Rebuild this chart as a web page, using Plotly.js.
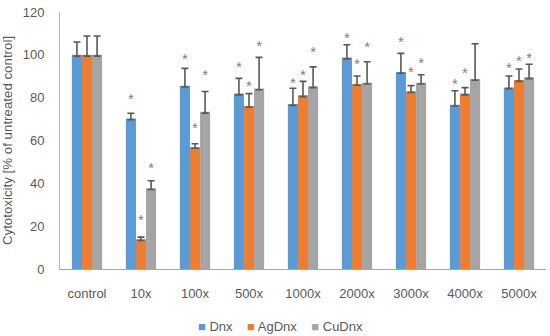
<!DOCTYPE html>
<html>
<head>
<meta charset="utf-8">
<script src="https://cdn.plot.ly/plotly-3.0.1.min.js"></script>
<style>html,body{margin:0;padding:0;background:#fff;}#chart{width:550px;height:336px;}</style>
</head>
<body>
<div id="chart"></div>
<script>
var categories = ["control", "10x", "100x", "500x", "1000x", "2000x", "3000x", "4000x", "5000x"];

var dnx    = [100, 70.3, 85.6, 81.9, 77.0, 98.7, 92.0, 76.7, 84.8];
var dnxErr = [6.0, 2.4, 8.1, 7.1, 7.4, 6.0, 8.7, 6.5, 5.3];
var agdnx    = [100, 13.9, 57.0, 76.1, 81.1, 86.4, 83.0, 81.9, 88.2];
var agdnxErr = [8.8, 1.0, 1.5, 5.8, 6.5, 3.7, 2.6, 2.8, 5.2];
var cudnx    = [100, 37.7, 73.4, 84.3, 85.3, 87.0, 87.0, 88.7, 89.5];
var cudnxErr = [8.8, 3.5, 9.5, 14.5, 9.1, 9.8, 3.7, 16.5, 6.1];
var errMinus = [0.6, 0.6, 0.6, 0.6, 0.6, 0.6, 0.6, 0.6, 0.6];

// asterisk (significance) marker heights
var starDnx = [null, 78.9, 97.6, 93.7, 86.2, 107.2, 105.4, 85.8, 93.5];
var starAg  = [null, 22.4, 65.2, 84.8, 89.8, 95.1, 91.6, 91.0, 96.6];
var starCu  = [null, 46.5, 90.1, 103.5, 100.7, 103.3, 95.7, null, 98.0];

var names = ["Dnx", "AgDnx", "CuDnx"];
var colors = ["#5b9bd5", "#ed7d31", "#a5a5a5"];
var vals = [dnx, agdnx, cudnx];
var errs = [dnxErr, agdnxErr, cudnxErr];
var stars = [starDnx, starAg, starCu];

var traces = [];
for (var i = 0; i < 3; i++) {
  traces.push({
    type: "bar", name: names[i], x: categories, y: vals[i],
    offsetgroup: "g" + i, alignmentgroup: "a",
    marker: {color: colors[i]},
    error_y: {type: "data", symmetric: false, array: errs[i], arrayminus: errMinus,
              color: "#595959", thickness: 1.6, width: 3.5},
    hoverinfo: "skip", showlegend: false
  });
}
for (var j = 0; j < 3; j++) {
  traces.push({
    type: "scatter", mode: "text", x: categories, y: stars[j],
    text: stars[j].map(function(v){ return v === null ? "" : "*"; }),
    textposition: "middle center",
    textfont: {family: "Liberation Sans, Arial, sans-serif", size: 15, color: "#808080"},
    offsetgroup: "g" + j, alignmentgroup: "a",
    showlegend: false, hoverinfo: "skip", cliponaxis: false
  });
}

var legendText = names.map(function(n, k){
  return '<span style="color:' + colors[k] + '">\u25A0</span> ' + n;
}).join('&nbsp;&nbsp;&nbsp;&nbsp;');

var layout = {
  width: 550, height: 336,
  margin: {l: 60, r: 4, t: 12, b: 67},
  paper_bgcolor: "#fff", plot_bgcolor: "#fff",
  barmode: "group", scattermode: "group",
  bargap: 0.44, bargroupgap: 0, scattergap: 0.44,
  font: {family: "Liberation Sans, Arial, sans-serif", color: "#595959", size: 13},
  xaxis: {
    type: "category", showgrid: false, zeroline: false,
    showline: true, linecolor: "#a6a6a6", linewidth: 1,
    ticks: "", ticklabelstandoff: 12,
    tickfont: {size: 13, color: "#595959"}
  },
  yaxis: {
    range: [0, 120], dtick: 20, showgrid: false, zeroline: false,
    showline: true, linecolor: "#9dc3e6", linewidth: 1,
    ticks: "", ticklabelstandoff: 12,
    tickfont: {size: 13, color: "#595959"},
    title: {text: "Cytotoxicity [% of untreated control]", font: {size: 13.3, color: "#595959"}, standoff: 10}
  },
  showlegend: false,
  annotations: [{
    xref: "paper", yref: "paper", x: 0.453, y: -0.222, xanchor: "center", yanchor: "middle",
    text: legendText, showarrow: false, font: {size: 13, color: "#595959"}
  }]
};

Plotly.newPlot("chart", traces, layout, {displayModeBar: false, staticPlot: true});
</script>
</body>
</html>
